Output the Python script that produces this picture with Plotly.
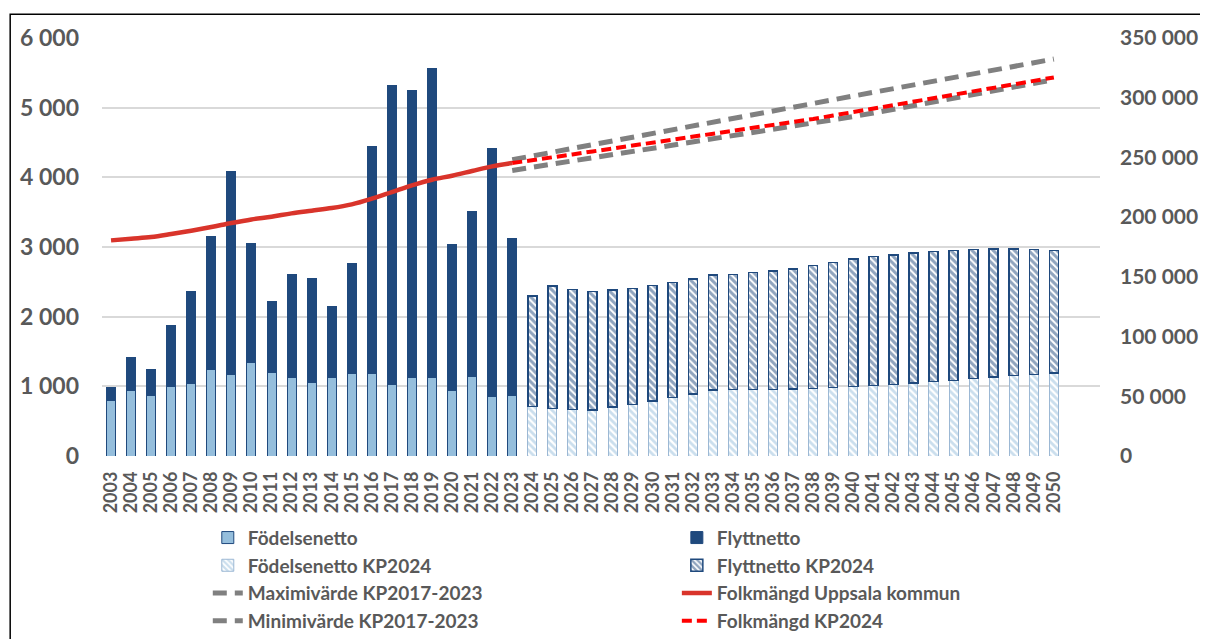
import plotly.graph_objects as go

hist_years = list(range(2003, 2024))
proj_years = list(range(2024, 2051))
line_years = list(range(2023, 2051))

fodelsenetto = [797, 941, 864, 998, 1037, 1243, 1171, 1339, 1205, 1128, 1061,
                1128, 1186, 1186, 1032, 1128, 1128, 946, 1143, 855, 864]
flyttnetto = [187, 475, 379, 874, 1320, 1911, 2919, 1705, 1008, 1484, 1483,
              1023, 1574, 3255, 4287, 4114, 4431, 2083, 2371, 3566, 2256]

fodelsenetto_kp = [708, 679, 670, 660, 703, 742, 789, 837, 890, 947, 952, 952,
                   952, 962, 967, 981, 1000, 1014, 1029, 1048, 1067, 1086, 1110,
                   1134, 1153, 1172, 1191]
totalt_kp = [2297, 2440, 2392, 2364, 2383, 2407, 2450, 2493, 2541, 2598, 2608,
             2632, 2656, 2684, 2732, 2780, 2828, 2861, 2885, 2914, 2933, 2952,
             2962, 2971, 2971, 2962, 2952]
flyttnetto_kp = [t - f for t, f in zip(totalt_kp, fodelsenetto_kp)]

folkmangd = [180550, 181950, 183350, 185850, 188650, 191700, 195100, 198100,
             200400, 203150, 205400, 207600, 210700, 215450, 221000, 226600,
             231350, 234700, 238600, 242500, 245300]
folkmangd_kp = [245300, 247500, 250000, 252500, 255000, 257400, 259900, 262400,
                264800, 267300, 269800, 272300, 274700, 277200, 279700, 282200,
                285100, 288000, 290900, 293800, 296700, 299600, 302500, 305400,
                308300, 311200, 314100, 317000]
maxvarde = [248100, 251300, 254500, 257700, 260900, 264100, 267300, 270400,
            273500, 276600, 279700, 282800, 285900, 289000, 292100, 295200,
            298300, 301400, 304500, 307600, 310700, 313800, 316900, 320000,
            323100, 326200, 329300, 332400]
minvarde = [239100, 241700, 244300, 246900, 249500, 252100, 254700, 257300,
            259900, 262500, 265100, 267700, 270300, 272900, 275500, 278200,
            281200, 284200, 287200, 290200, 293200, 296300, 299400, 302500,
            305600, 308700, 311900, 315100]

left_ticks = [0, 1000, 2000, 3000, 4000, 5000, 6000]
left_labels = ["0", "1 000", "2 000", "3 000", "4 000", "5 000", "6 000"]
right_ticks = [0, 50000, 100000, 150000, 200000, 250000, 300000, 350000]
right_labels = ["0", "50 000", "100 000", "150 000", "200 000", "250 000",
                "300 000", "350 000"]

LIGHT = "#95bedc"
DARK = "#1f497d"
GREY = "#808080"
TXT = "#595959"

fig = go.Figure()
fig.add_trace(go.Bar(x=hist_years, y=fodelsenetto, name="Födelsenetto", legend="legend",
                     marker=dict(color=LIGHT, line=dict(color=DARK, width=1))))
fig.add_trace(go.Bar(x=hist_years, y=flyttnetto, name="Flyttnetto", legend="legend2",
                     marker=dict(color=DARK, line=dict(color=DARK, width=1))))
fig.add_trace(go.Bar(x=proj_years, y=fodelsenetto_kp, name="Födelsenetto KP2024", legend="legend",
                     marker=dict(color="white", line=dict(color="#9cb8d4", width=1),
                                 pattern=dict(shape="\\", fgcolor=LIGHT, bgcolor="white",
                                              size=5, solidity=0.55))))
fig.add_trace(go.Bar(x=proj_years, y=flyttnetto_kp, name="Flyttnetto KP2024", legend="legend2",
                     marker=dict(color="white", line=dict(color=DARK, width=1.5),
                                 pattern=dict(shape="\\", fgcolor=DARK, bgcolor="white",
                                              size=5, solidity=0.6))))

fig.add_trace(go.Scatter(x=line_years, y=maxvarde, name="Maximivärde KP2017-2023", yaxis="y2",
                         mode="lines", legend="legend",
                         line=dict(color=GREY, width=5, dash="14px,8px")))
fig.add_trace(go.Scatter(x=hist_years, y=folkmangd, name="Folkmängd Uppsala kommun", yaxis="y2",
                         mode="lines", legend="legend2",
                         line=dict(color="#d9342b", width=4.5, shape="spline")))
fig.add_trace(go.Scatter(x=line_years, y=minvarde, name="Minimivärde KP2017-2023", yaxis="y2",
                         mode="lines", legend="legend",
                         line=dict(color=GREY, width=5, dash="14px,8px")))
fig.add_trace(go.Scatter(x=line_years, y=folkmangd_kp, name="Folkmängd KP2024", yaxis="y2",
                         mode="lines", legend="legend2",
                         line=dict(color="#ff0000", width=4, dash="10px,5px")))

legend_style = dict(orientation="v", yanchor="top", xanchor="left", y=-0.15,
                    font=dict(family="Lato", size=19, color=TXT, weight="bold"),
                    bgcolor="rgba(0,0,0,0)", tracegroupgap=0, traceorder="normal")

# the page adds an 8px body margin, so the figure is 8px smaller than the window
fig.update_layout(
    width=1200, height=631,
    barmode="stack", bargap=0.55,
    paper_bgcolor="white", plot_bgcolor="white",
    font=dict(family="Lato", color=TXT, weight="bold"),
    margin=dict(l=94, r=108, t=30, b=183, autoexpand=False),
    xaxis=dict(range=[2002.55, 2052.3], tickmode="array", tickvals=hist_years + proj_years,
               tickangle=-90, tickfont=dict(family="Lato", size=18, color=TXT, weight="bold"),
               showgrid=False, showline=False, ticks="", automargin=False,
               ticklabelstandoff=11),
    yaxis=dict(range=[0, 6000], tickvals=left_ticks, ticktext=left_labels,
               tickfont=dict(family="Lato", size=23, color=TXT, weight="bold"),
               gridcolor="#d9d9d9", gridwidth=1.5, zeroline=False,
               ticklabelstandoff=22, automargin=False),
    yaxis2=dict(range=[0, 350000], tickvals=right_ticks, ticktext=right_labels,
                overlaying="y", side="right", showgrid=False, zeroline=False,
                tickfont=dict(family="Lato", size=21, color=TXT, weight="bold"),
                ticklabelstandoff=19, automargin=False),
    legend=dict(legend_style, x=0.106),
    legend2=dict(legend_style, x=0.576),
    # chart frame: only the top and left edges fall inside the picture
    shapes=[dict(type="path", xref="paper", yref="paper",
                 path="M -0.092,-0.6 L -0.092,1.057 L 1.2,1.057",
                 line=dict(color="black", width=1.5))],
)

fig.write_html("out.html")
